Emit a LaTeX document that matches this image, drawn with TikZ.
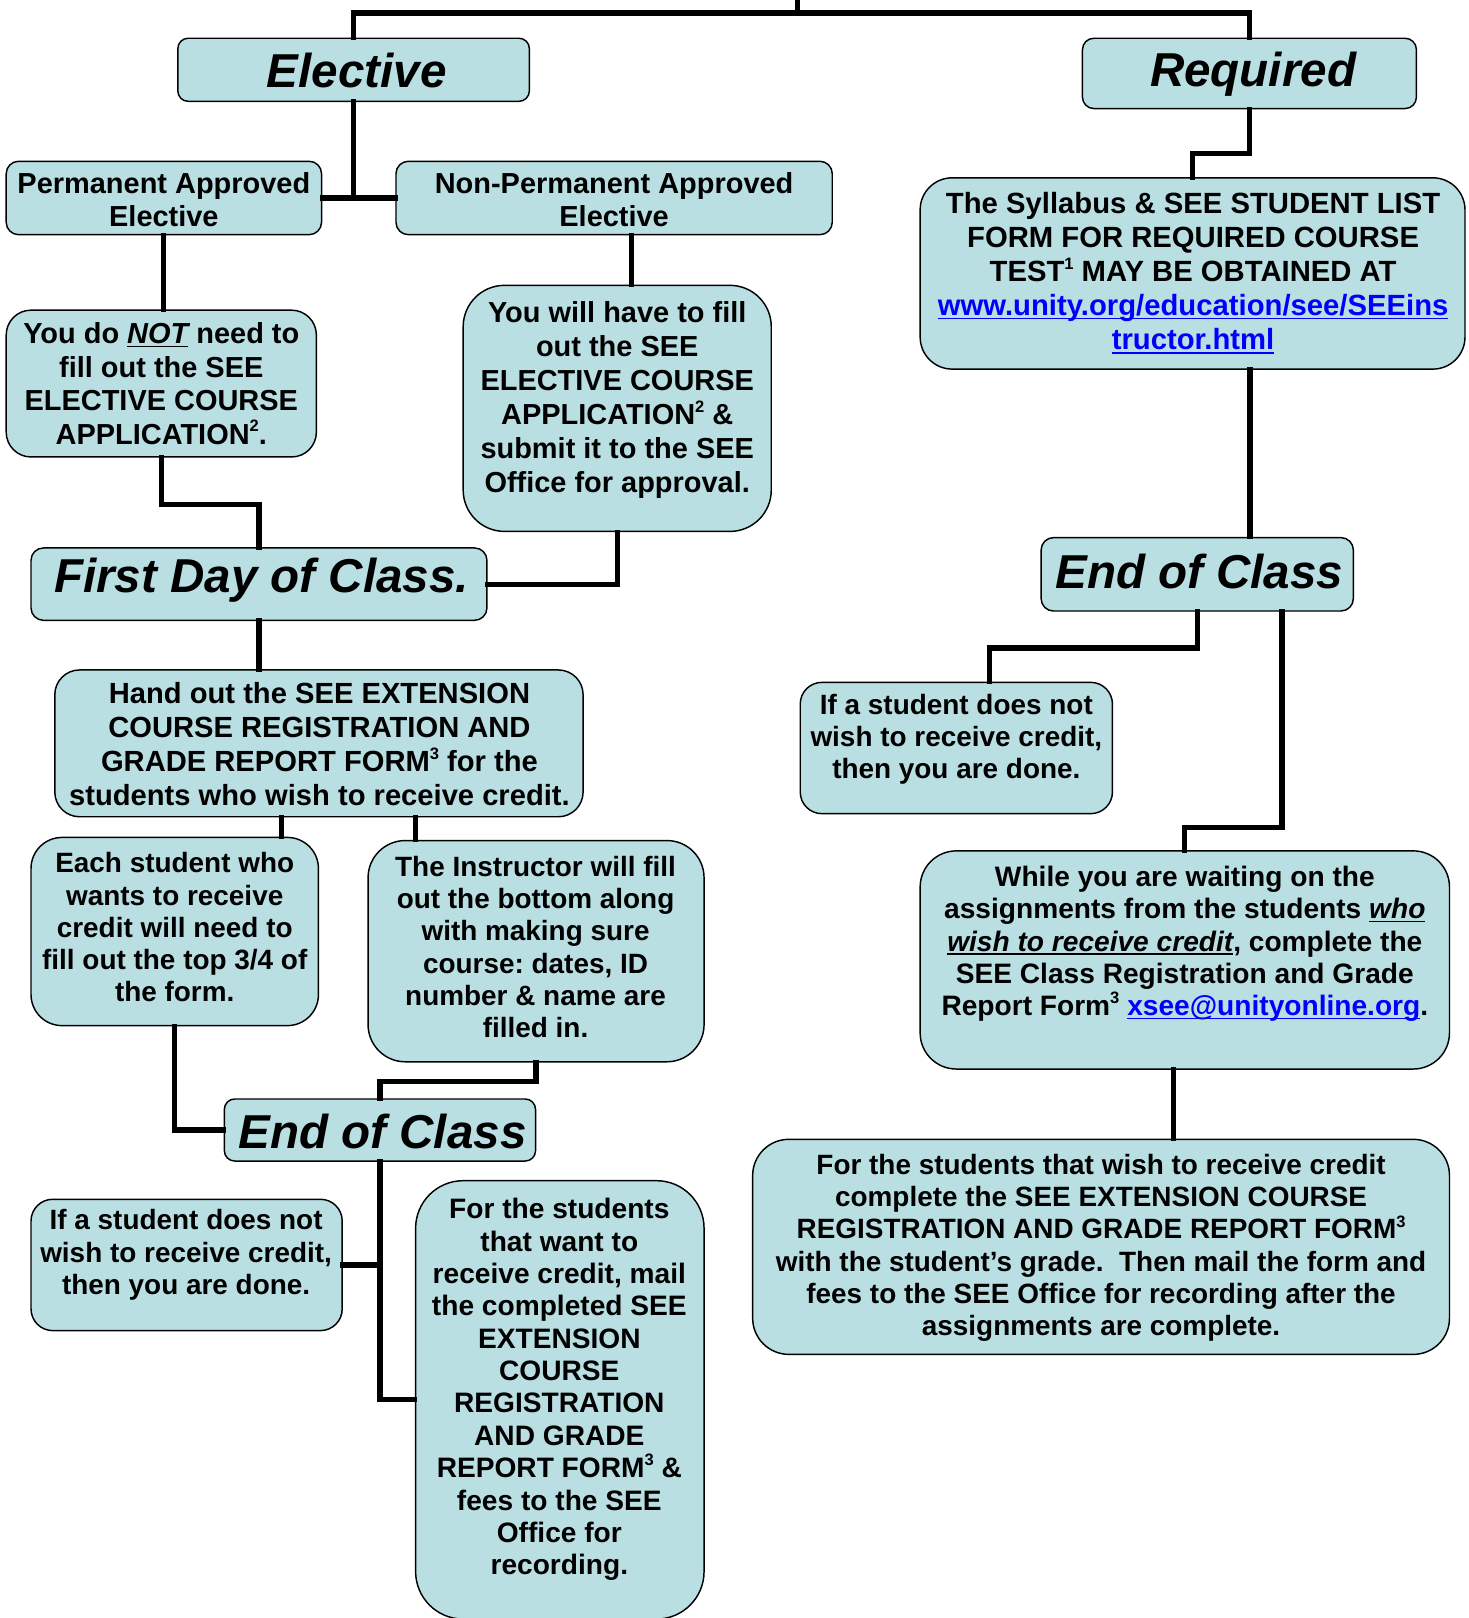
\documentclass[tikz,border=0pt]{standalone}
\usepackage{fontspec}
\setmainfont{Liberation Sans}
\frenchspacing
\definecolor{boxfill}{RGB}{185,223,227}
\definecolor{linkblue}{RGB}{0,0,255}
\newcommand\myul[1]{\setbox0\hbox{#1}\rlap{\rule[-3.5pt]{\wd0}{1.8pt}}\box0\relax}
\newcommand\lnk[1]{{\color{linkblue}\myul{#1}}}
\newcommand\sprs[1]{\raisebox{0.42em}{\fontsize{16}{16}\selectfont #1}}
\begin{document}
\begin{tikzpicture}[x=1pt,y=-1pt,
  bx/.style={draw=black, line width=1.4pt, fill=boxfill, inner sep=0pt},
  txt/.style={align=center, inner sep=0pt, font=\fontsize{27.2}{31.3}\selectfont\bfseries},
  txtb/.style={align=center, inner sep=0pt, font=\fontsize{28}{33}\selectfont\bfseries},
  big/.style={inner sep=0pt, font=\fontsize{46}{50}\selectfont\bfseries\itshape},
  conn/.style={line width=5pt, line cap=rect, line join=miter}]
\useasboundingbox (0,0) rectangle (1420,1565);

% ---------- boxes ----------
\node[bx, minimum width=340, minimum height=61, rounded corners=10] (elective) at (342,67.5) {};
\node[bx, minimum width=323, minimum height=68, rounded corners=11] (required) at (1208.5,71) {};
\node[bx, minimum width=305, minimum height=71, rounded corners=12] (perm) at (158.5,191.5) {};
\node[bx, minimum width=422, minimum height=71, rounded corners=12] (nonperm) at (594,191.5) {};
\node[bx, minimum width=300, minimum height=142, rounded corners=24] (notneed) at (156,371) {};
\node[bx, minimum width=298, minimum height=238, rounded corners=40] (willhave) at (597,395) {};
\node[bx, minimum width=441, minimum height=70, rounded corners=12] (firstday) at (250.5,565) {};
\node[bx, minimum width=511, minimum height=142, rounded corners=24] (handout) at (308.5,719) {};
\node[bx, minimum width=278, minimum height=182, rounded corners=30] (each) at (169,901) {};
\node[bx, minimum width=325, minimum height=214, rounded corners=36] (instr) at (518.5,920) {};
\node[bx, minimum width=301, minimum height=60, rounded corners=10] (endL) at (367.5,1093) {};
\node[bx, minimum width=301, minimum height=127, rounded corners=21] (ifL) at (180.5,1223.5) {};
\node[bx, minimum width=279, minimum height=424, rounded corners=46] (forL) at (541.5,1354) {};
\node[bx, minimum width=527, minimum height=185, rounded corners=31] (syll) at (1153.5,264.5) {};
\node[bx, minimum width=302, minimum height=71, rounded corners=12] (endR) at (1158,555.5) {};
\node[bx, minimum width=302, minimum height=127, rounded corners=21] (ifR) at (925,723.5) {};
\node[bx, minimum width=512, minimum height=211, rounded corners=35] (while) at (1146,928.5) {};
\node[bx, minimum width=674, minimum height=208, rounded corners=35] (botR) at (1065,1206) {};

% ---------- texts ----------
\node[big] (telective) at (345,68) {Elective};
\node[big] (trequired) at (1212,72) {Required};
\node[txtb, font=\fontsize{28}{32}\selectfont\bfseries] (tperm) at (158.5,193.5) {Permanent Approved\\Elective};
\node[txtb, font=\fontsize{28}{32}\selectfont\bfseries] (tnonperm) at (594,193.5) {Non-Permanent Approved\\Elective};
\node[txtb, font=\fontsize{28}{32.3}\selectfont\bfseries] (tnotneed) at (156,371) {You do \myul{\itshape NOT} need to\\fill out the SEE\\ELECTIVE COURSE\\APPLICATION\sprs{2}.};
\node[txtb] (twillhave) at (597,387) {You will have to fill\\out the SEE\\ELECTIVE COURSE\\APPLICATION\sprs{2} \&\\submit it to the SEE\\Office for approval.};
\node[big] (tfirstday) at (253,561) {First Day of Class.};
\node[txtb, font=\fontsize{28.2}{33}\selectfont\bfseries] (thandout) at (309,720) {Hand out the SEE EXTENSION\\COURSE REGISTRATION AND\\GRADE REPORT FORM\sprs{3} for the\\students who wish to receive credit.};
\node[txt, font=\fontsize{27}{31.25}\selectfont\bfseries] (teach) at (169,897) {Each student who\\wants to receive\\credit will need to\\fill out the top 3/4 of\\the form.};
\node[txt, font=\fontsize{27}{31.2}\selectfont\bfseries] (tinstr) at (518,916) {The Instructor will fill\\out the bottom along\\with making sure\\course: dates, ID\\number \& name are\\filled in.};
\node[big] (tendL) at (370,1094) {End of Class};
\node[txt, font=\fontsize{27}{31.5}\selectfont\bfseries] (tifL) at (180,1214) {If a student does not\\wish to receive credit,\\then you are done.};
\node[txt] (tforL) at (541,1344) {For the students\\that want to\\receive credit, mail\\the completed SEE\\EXTENSION\\COURSE\\REGISTRATION\\AND GRADE\\REPORT FORM\sprs{3} \&\\fees to the SEE\\Office for\\recording.};
\node[txtb, font=\fontsize{28.3}{33}\selectfont\bfseries] (tsyll) at (1154,264) {The Syllabus \& SEE STUDENT LIST\\FORM FOR REQUIRED COURSE\\TEST\sprs{1} MAY BE OBTAINED AT\\\lnk{www.unity.org/education/see/SEEins}\\\lnk{tructor.html}};
\node[big] (tendR) at (1160,553) {End of Class};
\node[txt, font=\fontsize{27}{31}\selectfont\bfseries] (tifR) at (925,715) {If a student does not\\wish to receive credit,\\then you are done.};
\node[txt, font=\fontsize{27.2}{31.25}\selectfont\bfseries] (twhile) at (1146,913) {While you are waiting on the\\assignments from the students \myul{\itshape who}\\\myul{\itshape wish to receive credit}, complete the\\SEE Class Registration and Grade\\Report Form\sprs{3} \lnk{xsee@unityonline.org}.};
\node[txt, font=\fontsize{27}{31.2}\selectfont\bfseries] (tbotR) at (1065,1207) {For the students that wish to receive credit\\complete the SEE EXTENSION COURSE\\REGISTRATION AND GRADE REPORT FORM\sprs{3}\\with the student’s grade.\ \ Then mail the form and\\fees to the SEE Office for recording after the\\assignments are complete.};

% ---------- connectors ----------
\coordinate (root) at (771.5,12.5);
\coordinate (rootup) at (771.5,-2);
\draw[conn] (root) -- (rootup);
\draw[conn] (elective.north) |- (root) -| (required.north);
\draw[conn] (elective.south) -- (elective.south |- perm.east);
\draw[conn] (perm.east) -- (nonperm.west);
\draw[conn] (perm.south) -- (perm.south |- notneed.north);
\draw[conn] ([xshift=17]nonperm.south) -- ([xshift=17]nonperm.south |- willhave.north);
\draw[conn] (notneed.south) -- ++(0,45) -| (firstday.north);
\draw[conn] (willhave.south) |- (firstday.east);
\draw[conn] (firstday.south) -- (firstday.south |- handout.north);
\draw[conn] ([xshift=-36.5]handout.south) -- ([xshift=-36.5]handout.south |- each.north);
\draw[conn] ([xshift=93.5]handout.south) -- ([xshift=93.5]handout.south |- instr.north);
\draw[conn] (each.south) |- (endL.west);
\draw[conn] (instr.south) -- ++(0,18) -| (endL.north);
\draw[conn] (endL.south) |- (forL.west);
\draw[conn] (ifL.east) -- (ifL.east -| endL.south);
\draw[conn] (required.south) -- ++(0,43) -| (syll.north);
\draw[conn] ([xshift=55.5]syll.south) -- ([xshift=55.5]syll.south |- endR.north);
\draw[conn] (endR.south) -- ++(0,35) -| ([xshift=32]ifR.north);
\draw[conn] ([xshift=82]endR.south) -- ++(0,209) -| (while.north);
\draw[conn] ([xshift=-11]while.south) -- ([xshift=-11]while.south |- botR.north);
\end{tikzpicture}
\end{document}
